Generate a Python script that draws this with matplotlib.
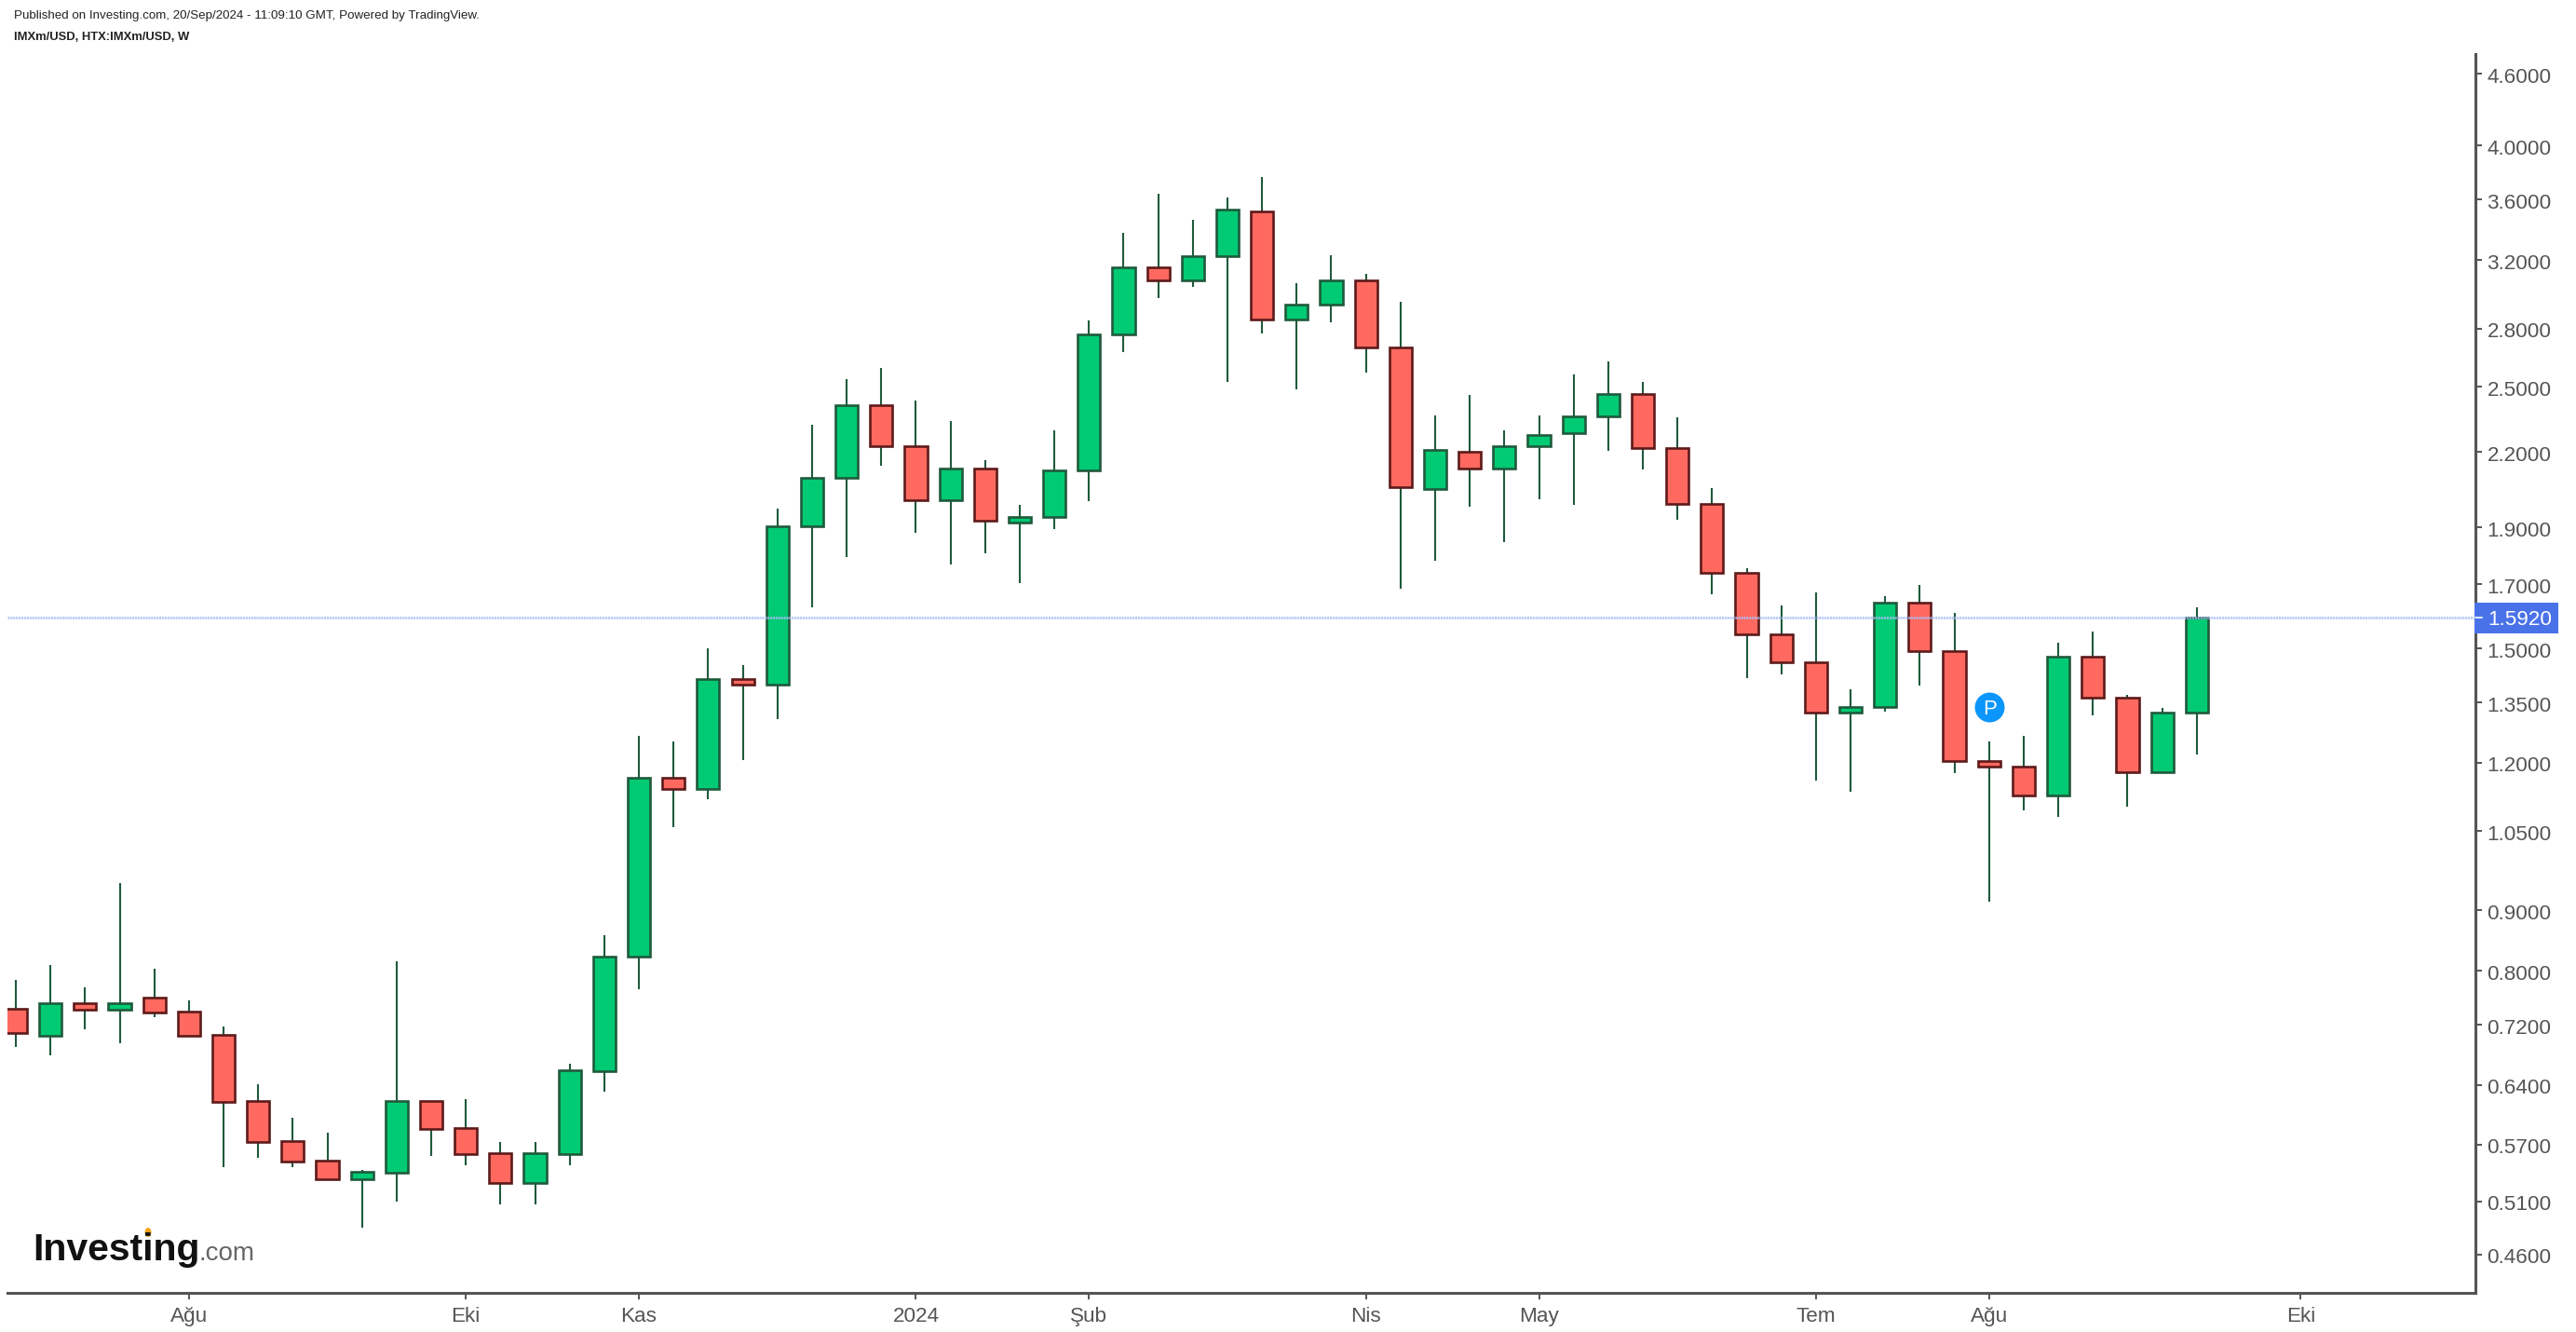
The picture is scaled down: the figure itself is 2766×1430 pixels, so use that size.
import numpy as np
import matplotlib
matplotlib.use('Agg')
import matplotlib.pyplot as plt
from matplotlib.lines import Line2D
from matplotlib.patches import Ellipse, Rectangle
from matplotlib.transforms import ScaledTranslation

W, H = 2766, 1430
plt.rcParams['font.family'] = ['Liberation Sans', 'DejaVu Sans']

# weekly candles
colors = list("rgrgrrrrrr" "ggrrrggggr" "grgggrrgrg" "gggrggrggr" "rgrggggrrr" "rrrggrrrrg" "rrgg")
highs = [0.786, 0.809, 0.774, 0.949, 0.803, 0.755, 0.717, 0.641, 0.600, 0.583, 0.542, 0.815, 0.620, 0.623, 0.573, 0.573,
         0.667, 0.857, 1.265, 1.251, 1.500, 1.452, 1.971, 2.321, 2.535, 2.593, 2.433, 2.338, 2.166, 1.985, 2.296, 2.845,
         3.374, 3.642, 3.461, 3.616, 3.763, 3.059, 3.230, 3.115, 2.950, 2.363, 2.460, 2.296, 2.363, 2.560, 2.626, 2.523,
         2.355, 2.051, 1.754, 1.631, 1.673, 1.385, 1.661, 1.698, 1.608, 1.251, 1.265, 1.517, 1.550, 1.370, 1.336, 1.625]
body_tops = [0.743, 0.751, 0.751, 0.751, 0.759, 0.738, 0.706, 0.620, 0.574, 0.552, 0.540, 0.620, 0.620, 0.589, 0.560, 0.560,
             0.659, 0.823, 1.166, 1.166, 1.414, 1.414, 1.905, 2.094, 2.412, 2.412, 2.227, 2.132, 2.132, 1.940, 2.124, 2.770,
             3.157, 3.157, 3.226, 3.533, 3.520, 2.935, 3.077, 3.077, 2.700, 2.211, 2.203, 2.227, 2.276, 2.360, 2.466, 2.466,
             2.219, 1.990, 1.739, 1.543, 1.461, 1.339, 1.641, 1.641, 1.493, 1.205, 1.192, 1.477, 1.477, 1.363, 1.324, 1.594]
body_bottoms = [0.708, 0.705, 0.742, 0.742, 0.737, 0.705, 0.619, 0.573, 0.551, 0.533, 0.533, 0.539, 0.588, 0.559, 0.529, 0.529,
                0.559, 0.658, 0.822, 1.140, 1.140, 1.397, 1.397, 1.903, 2.091, 2.225, 2.002, 2.002, 1.924, 1.917, 1.938, 2.122,
                2.767, 3.074, 3.074, 3.223, 2.848, 2.848, 2.932, 2.697, 2.054, 2.046, 2.130, 2.130, 2.225, 2.282, 2.358, 2.216,
                1.988, 1.737, 1.541, 1.459, 1.323, 1.323, 1.337, 1.491, 1.204, 1.191, 1.127, 1.127, 1.362, 1.178, 1.178, 1.323]
lows = [0.690, 0.678, 0.713, 0.695, 0.731, 0.705, 0.545, 0.555, 0.545, 0.533, 0.485, 0.510, 0.557, 0.547, 0.507, 0.507,
        0.547, 0.632, 0.772, 1.059, 1.118, 1.207, 1.308, 1.626, 1.794, 2.144, 1.881, 1.768, 1.807, 1.705, 1.894, 2.001,
        2.676, 2.973, 3.039, 2.524, 2.775, 2.488, 2.836, 2.571, 1.686, 1.781, 1.979, 1.847, 2.008, 1.986, 2.207, 2.128,
        1.929, 1.668, 1.416, 1.427, 1.160, 1.135, 1.327, 1.396, 1.177, 0.916, 1.094, 1.079, 1.317, 1.102, 1.178, 1.220]

price_ticks = [4.6, 4.0, 3.6, 3.2, 2.8, 2.5, 2.2, 1.9, 1.7, 1.5, 1.35, 1.2, 1.05, 0.9, 0.8, 0.72, 0.64, 0.57, 0.51, 0.46]
month_ticks = [5, 13, 18, 26, 31, 39, 44, 52, 57, 66]
month_labels = ['Ağu', 'Eki', 'Kas', '2024', 'Şub', 'Nis', 'May', 'Tem', 'Ağu', 'Eki']
last_price = 1.592
marker_week, marker_price = 57, 1.338

UP, UP_EDGE = '#00CA73', '#1F5A3C'
DOWN, DOWN_EDGE = '#FF6960', '#5E1A1A'
GREY = '#555555'


def fx(px):
    return px / W


def fy(px):
    return 1 - px / H


fig = plt.figure(figsize=(W / 100, H / 100), dpi=100, facecolor='white')
ax = fig.add_axes([fx(8), fy(1388), fx(2658 - 8), (1388 - 58) / H])

x = np.arange(len(highs))
tops = np.array(body_tops)
bottoms = np.array(body_bottoms)
fills = [UP if c == 'g' else DOWN for c in colors]
edges = [UP_EDGE if c == 'g' else DOWN_EDGE for c in colors]

ax.vlines(x, lows, highs, color=UP_EDGE, lw=1.5, zorder=2)
ax.bar(x, tops - bottoms, bottom=bottoms, width=0.65, color=fills, edgecolor=edges, linewidth=1.9, zorder=3)

ax.axhline(last_price, color='#A9BEF5', alpha=0.85, lw=1.9, ls=(0, (0.8, 0.3)), zorder=5)
ax.scatter([marker_week], [marker_price], s=530, color='#0B96FB', linewidths=0, zorder=6)
ax.text(marker_week + 0.03, marker_price, 'P', color='white', fontsize=16, ha='center', va='center_baseline', zorder=7)

ax.set_yscale('log')
ax.set_xlim(-0.242, 71.05)
ax.set_ylim(0.4267, 4.783)
ax.yaxis.tick_right()
ax.set_yticks(price_ticks)
ax.set_yticklabels([f'{p:.4f}' for p in price_ticks])
ax.minorticks_off()
ax.set_xticks(month_ticks)
ax.set_xticklabels(month_labels)
ax.tick_params(axis='both', which='major', length=5, width=1.4, color=GREY, labelcolor=GREY, labelsize=16.2)
ax.tick_params(axis='y', pad=4)
ax.tick_params(axis='x', pad=6)

# the price labels sit a touch below their ticks
nudge = ScaledTranslation(0, -1.5 / 100, fig.dpi_scale_trans)
for lab in ax.get_yticklabels():
    lab.set_transform(lab.get_transform() + nudge)

ax.spines['top'].set_visible(False)
ax.spines['left'].set_visible(False)
for side in ['right', 'bottom']:
    ax.spines[side].set_color(GREY)
    ax.spines[side].set_linewidth(2.2)

# last price flag on the axis
fig.add_artist(Rectangle((fx(2657), fy(679.6)), fx(90), 32.6 / H, color='#4A72E8', lw=0, zorder=8))
fig.add_artist(Line2D([fx(2658), fx(2665)], [fy(663), fy(663)], color='white', lw=1.2, zorder=9))
fig.text(fx(2671), fy(663), f'{last_price:.4f}', color='white', fontsize=16.2, va='center_baseline', zorder=10)

# header
fig.text(fx(15), fy(17), 'Published on Investing.com, 20/Sep/2024 - 11:09:10 GMT, Powered by TradingView.',
         fontsize=9.65, color='#222222', va='center')
fig.text(fx(15), fy(40), 'IMXm/USD, HTX:IMXm/USD, W', fontsize=9.4, fontweight='bold', color='#222222', va='center')

# logo
fig.text(fx(35), fy(1353), 'Investing', fontsize=29.5, fontweight='bold', color='#111111', va='baseline')
fig.text(fx(213), fy(1353), '.com', fontsize=20, color='#666666', va='baseline')
fig.add_artist(Ellipse((fx(159), fy(1323)), 7 / W, 10 / H, color='#F7A31C', lw=0))

fig.savefig('out.png', dpi=100, facecolor='white')
